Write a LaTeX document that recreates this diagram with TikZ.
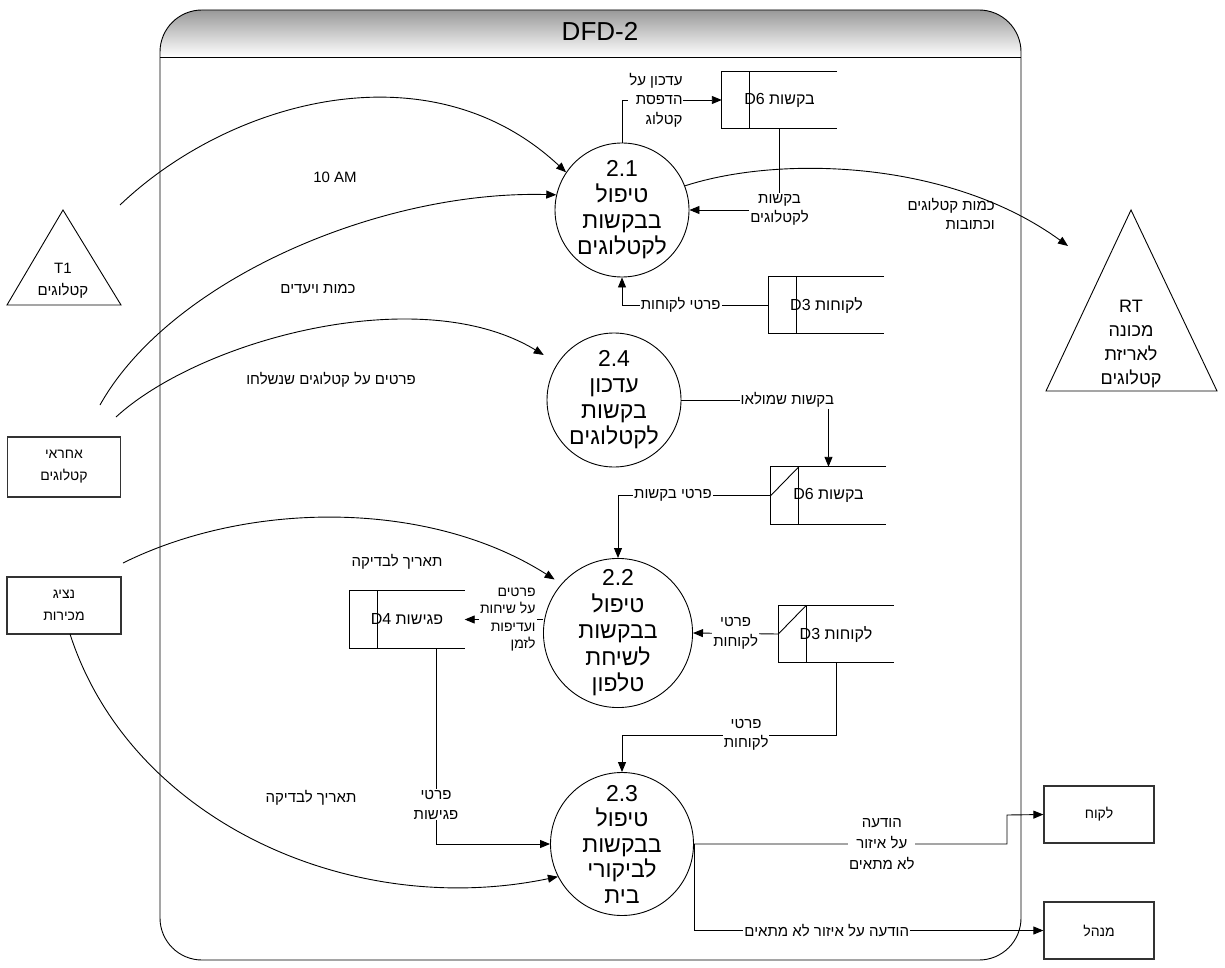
\documentclass[tikz,border=0pt]{standalone}
\usepackage{fontspec}
\setmainfont{Liberation Sans}
\newfontfamily\hebfont[Script=Hebrew]{Liberation Sans}
\TeXXeTstate=1
\usetikzlibrary{arrows.meta}
\newcommand{\hb}[1]{{\hebfont\beginR #1\endR}}
\tikzset{
  flow/.style={line width=0.9pt,-{Triangle[length=10pt,width=8pt]}},
  proc/.style={circle,draw,line width=0.9pt,minimum size=134pt,inner sep=0pt,align=center,font=\fontsize{23}{26}\selectfont},
  store/.style={minimum width=115pt,minimum height=57pt,inner sep=0pt,font=\fontsize{16}{18}\selectfont},
  ent/.style={draw=black!80,line width=1.3pt,minimum width=114pt,minimum height=57pt,align=center,font=\fontsize{14}{22}\selectfont},
  lbl/.style={align=center,inner sep=1pt,font=\fontsize{15}{19.5}\selectfont},
  wlbl/.style={lbl,fill=white},
}
\begin{document}
\begin{tikzpicture}[x=1pt,y=-1pt]
\useasboundingbox (0,0) rectangle (1225,968);
% container
\begin{scope}
\clip[rounded corners=42pt] (160,10) rectangle (1021,960);
\shade[top color=black!40,bottom color=white] (160,10) rectangle (1021,57);
\end{scope}
\draw[line width=0.9pt,rounded corners=42pt] (160,10) rectangle (1021,960);
\draw[line width=0.9pt] (160,57) -- (1021,57);
\node[font=\fontsize{26}{28}\selectfont] (title) at (600,31) {DFD-2};

% processes
\node[proc] (p21) at (622,210) {2.1\\\hb{טיפול}\\\hb{בבקשות}\\\hb{לקטלוגים}};
\node[proc] (p24) at (614,400) {2.4\\\hb{עדכון}\\\hb{בקשות}\\\hb{לקטלוגים}};
\node[proc,font=\fontsize{23}{26.5}\selectfont] (p22) at (618,633) {2.2\\\hb{טיפול}\\\hb{בבקשות}\\\hb{לשיחת}\\\hb{טלפון}};
\node[proc,minimum size=143pt,font=\fontsize{23}{25.5}\selectfont] (p23) at (622,844) {2.3\\\hb{טיפול}\\\hb{בבקשות}\\\hb{לביקורי}\\\hb{בית}};

% data stores
\node[store] (d6a) at (779.5,100) {\hb{בקשות \beginL D6\endL{}}};
\node[store] (d3a) at (826.5,305) {\hb{לקוחות \beginL D3\endL{}}};
\node[store] (d6b) at (828.5,495.5) {\hb{בקשות \beginL D6\endL{}}};
\node[store] (d3b) at (836,634) {\hb{לקוחות \beginL D3\endL{}}};
\node[store] (d4) at (407,619.5) {\hb{פגישות \beginL D4\endL{}}};
\foreach \s in {d6a,d3a,d6b,d3b,d4}{
  \draw[line width=0.9pt] (\s.north east) -- (\s.north west) -- (\s.south west) -- (\s.south east);
  \draw[line width=0.9pt] ([xshift=28pt]\s.north west) -- ([xshift=28pt]\s.south west);
}
\draw[line width=0.9pt] (d6b.west) -- ([xshift=28pt]d6b.north west);
\draw[line width=0.9pt] (d3b.west) -- ([xshift=28pt]d3b.north west);

% external entities
\draw[line width=0.9pt] (63,210) -- (121,305) -- (7,305) -- cycle;
\node[lbl,font=\fontsize{15}{22}\selectfont] (t1) at (63,281) {T1\\\hb{קטלוגים}};
\draw[line width=0.9pt] (1131,210) -- (1217,391) -- (1046,391) -- cycle;
\node[lbl,font=\fontsize{18}{24}\selectfont] (rt) at (1131,344) {RT\\\hb{מכונה}\\\hb{לאריזת}\\\hb{קטלוגים}};
\node[ent,minimum width=113pt,minimum height=60pt] (resp) at (64,467) {\hb{אחראי}\\\hb{קטלוגים}};
\node[ent] (rep) at (64,605.5) {\hb{נציג}\\\hb{מכירות}};
\node[ent,minimum width=110pt] (cust) at (1099,814.5) {\hb{לקוח}};
\node[ent,minimum width=110pt] (mgr) at (1099,930.5) {\hb{מנהל}};

% free ends
\coordinate (t1out) at (120,205);
\coordinate (respa) at (100,405);
\coordinate (respb) at (116,417);
\coordinate (repa) at (123,563);
\coordinate (repb) at (70,634);
\coordinate (rtin) at (1068,246);
\coordinate (j23) at (622,735);
\coordinate (jc) at (1007,815);

% curved flows
\draw[flow] (t1out) .. controls (230,100) and (430,45) .. (p21.146);
\draw[flow] (respa) .. controls (170,280) and (380,190) .. (p21.167);
\draw[flow,shorten >=16pt] (respb) .. controls (200,340) and (420,280) .. (p24.147);
\draw[flow,shorten >=8pt] (repa) .. controls (250,500) and (430,500) .. (p22.139);
\draw[flow] (repb) .. controls (130,820) and (350,920) .. (p23.207);
\draw[flow] (p21.21) .. controls (780,155) and (950,160) .. (rtin);
\node[lbl] (l10am) at (335,177) {10 AM};
\node[lbl] (lkamut) at (318,289) {\hb{כמות ויעדים}};
\node[lbl] (lsent) at (331,380) {\hb{פרטים על קטלוגים שנשלחו}};
\node[lbl] (ldate1) at (397,562) {\hb{תאריך לבדיקה}};
\node[lbl] (ldate2) at (311,798) {\hb{תאריך לבדיקה}};
\node[lbl,align=right,anchor=east] (laddr) at (996,214) {\hb{כמות קטלוגים}\\\hb{וכתובות}};

% straight flows
\draw[flow] (p21.north) |- node[wlbl,align=right,pos=.67] {\hb{עדכון על}\\\hb{הדפסת}\\\hb{קטלוג}} (d6a.west);
\draw[flow] (d6a.south) |- node[wlbl,pos=.5] {\hb{בקשות}\\\hb{לקטלוגים}} (p21.east);
\draw[flow] (d3a.west) -| node[wlbl,pos=.3] {\hb{פרטי לקוחות}} (p21.south);
\draw[flow] (p24.east) -| node[wlbl,pos=.36] {\hb{בקשות שמולאו}} (d6b.north);
\draw[flow] (d6b.west) -| node[wlbl,pos=.32] {\hb{פרטי בקשות}} (p22.north);
\draw[flow] (d3b.west) -- node[wlbl,pos=.5] {\hb{פרטי}\\\hb{לקוחות}} (p22.east);
\draw[flow] (d4.east -| p22.west) -- node[wlbl,align=right,anchor=east,pos=0,xshift=-6pt,font=\fontsize{14}{17.5}\selectfont] {\hb{פרטים}\\\hb{על שיחות}\\\hb{ועדיפות}\\\hb{לזמן}} (d4.east);
\draw[flow] ([xshift=29pt]d4.south) |- node[wlbl,pos=.4] {\hb{פרטי}\\\hb{פגישות}} (p23.west);
\draw[flow] (d3b.south) |- node[wlbl,pos=.71] {\hb{פרטי}\\\hb{לקוחות}} (j23) -- (p23.north);
\draw[flow] (p23.east) -| node[wlbl,pos=.3,font=\fontsize{15}{21}\selectfont] {\hb{הודעה}\\\hb{על איזור}\\\hb{לא מתאים}} (jc) -- (cust.west);
\draw[flow] (p23.east) |- node[wlbl,pos=.69] {\hb{הודעה על איזור לא מתאים}} (mgr.west);
\end{tikzpicture}
\end{document}
